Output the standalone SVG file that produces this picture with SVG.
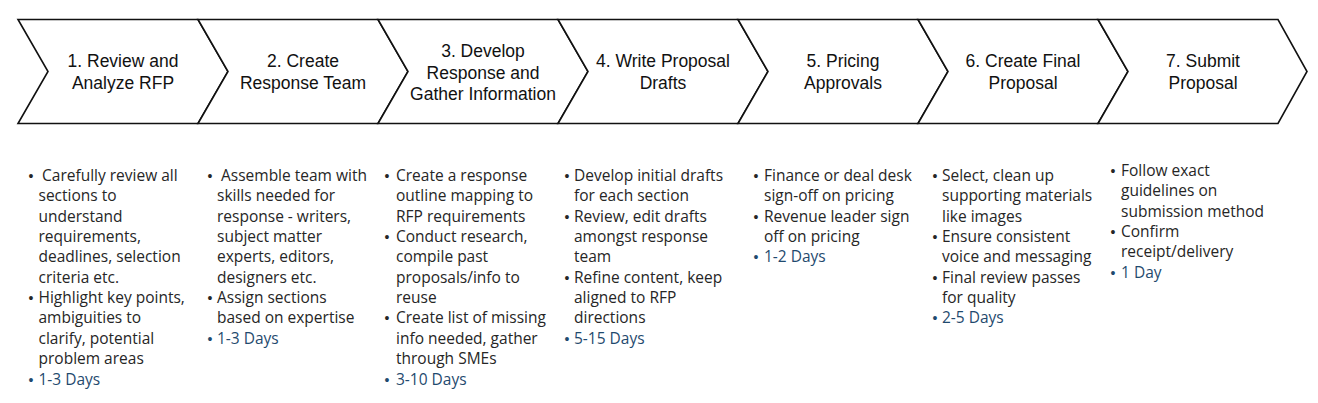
<svg xmlns="http://www.w3.org/2000/svg" width="1318" height="403" viewBox="0 0 1318 403">
<style>
.chev{fill:#fff;stroke:#111;stroke-width:1.6;stroke-linejoin:miter}
.hd{font-family:"Liberation Sans",Arial,sans-serif;font-size:17.5px;fill:#111;text-anchor:middle}
.bd{font-family:"Open Sans","Noto Sans",sans-serif;font-size:15.5px;fill:#262626}
.bl{font-family:"Liberation Sans",Arial,sans-serif;font-size:14px;fill:#262626;text-anchor:middle}
.dy{fill:#1f4a6e}
</style>
<rect width="1318" height="403" fill="#fff"/>
<g id="connectors"/>
<g id="step1">
<polygon class="chev" points="18,19.5 198,19.5 228,71.5 198,123.5 18,123.5 48,71.5"/>
<text class="hd" x="123" y="67">1. Review and<tspan x="123" dy="22">Analyze RFP</tspan></text>
<text class="bl" x="31" y="181">•<tspan x="31" dy="122.1">•</tspan><tspan x="31" dy="81.4" class="dy">•</tspan></text>
<text class="bd" x="42" y="181">Carefully review all<tspan x="38.5" dy="20.35">sections to</tspan><tspan x="38.5" dy="20.35">understand</tspan><tspan x="38.5" dy="20.35">requirements,</tspan><tspan x="38.5" dy="20.35">deadlines, selection</tspan><tspan x="38.5" dy="20.35">criteria etc.</tspan><tspan x="38.5" dy="20.35">Highlight key points,</tspan><tspan x="38.5" dy="20.35">ambiguities to</tspan><tspan x="38.5" dy="20.35">clarify, potential</tspan><tspan x="38.5" dy="20.35">problem areas</tspan><tspan x="38.5" dy="20.35" class="dy">1-3 Days</tspan></text>
</g>
<g id="step2">
<polygon class="chev" points="198,19.5 378,19.5 408,71.5 378,123.5 198,123.5 228,71.5"/>
<text class="hd" x="303" y="67">2. Create<tspan x="303" dy="22">Response Team</tspan></text>
<text class="bl" x="210" y="181">•<tspan x="210" dy="122.1">•</tspan><tspan x="210" dy="40.7" class="dy">•</tspan></text>
<text class="bd" x="221" y="181">Assemble team with<tspan x="217" dy="20.35">skills needed for</tspan><tspan x="217" dy="20.35">response - writers,</tspan><tspan x="217" dy="20.35">subject matter</tspan><tspan x="217" dy="20.35">experts, editors,</tspan><tspan x="217" dy="20.35">designers etc.</tspan><tspan x="217" dy="20.35">Assign sections</tspan><tspan x="217" dy="20.35">based on expertise</tspan><tspan x="217" dy="20.35" class="dy">1-3 Days</tspan></text>
</g>
<g id="step3">
<polygon class="chev" points="378,19.5 558,19.5 588,71.5 558,123.5 378,123.5 408,71.5"/>
<text class="hd" x="483" y="57">3. Develop<tspan x="483" dy="21.5">Response and</tspan><tspan x="483" dy="21.5">Gather Information</tspan></text>
<text class="bl" x="387" y="181">•<tspan x="387" dy="61.05">•</tspan><tspan x="387" dy="81.4">•</tspan><tspan x="387" dy="61.05" class="dy">•</tspan></text>
<text class="bd" x="396" y="181">Create a response<tspan x="396" dy="20.35">outline mapping to</tspan><tspan x="396" dy="20.35">RFP requirements</tspan><tspan x="396" dy="20.35">Conduct research,</tspan><tspan x="396" dy="20.35">compile past</tspan><tspan x="396" dy="20.35">proposals/info to</tspan><tspan x="396" dy="20.35">reuse</tspan><tspan x="396" dy="20.35">Create list of missing</tspan><tspan x="396" dy="20.35">info needed, gather</tspan><tspan x="396" dy="20.35">through SMEs</tspan><tspan x="396" dy="20.35" class="dy">3-10 Days</tspan></text>
</g>
<g id="step4">
<polygon class="chev" points="558,19.5 738,19.5 768,71.5 738,123.5 558,123.5 588,71.5"/>
<text class="hd" x="663" y="67">4. Write Proposal<tspan x="663" dy="22">Drafts</tspan></text>
<text class="bl" x="567" y="181">•<tspan x="567" dy="40.7">•</tspan><tspan x="567" dy="61.05">•</tspan><tspan x="567" dy="61.05" class="dy">•</tspan></text>
<text class="bd" x="574" y="181">Develop initial drafts<tspan x="574" dy="20.35">for each section</tspan><tspan x="574" dy="20.35">Review, edit drafts</tspan><tspan x="574" dy="20.35">amongst response</tspan><tspan x="574" dy="20.35">team</tspan><tspan x="574" dy="20.35">Refine content, keep</tspan><tspan x="574" dy="20.35">aligned to RFP</tspan><tspan x="574" dy="20.35">directions</tspan><tspan x="574" dy="20.35" class="dy">5-15 Days</tspan></text>
</g>
<g id="step5">
<polygon class="chev" points="738,19.5 918,19.5 948,71.5 918,123.5 738,123.5 768,71.5"/>
<text class="hd" x="843" y="67">5. Pricing<tspan x="843" dy="22">Approvals</tspan></text>
<text class="bl" x="756" y="181">•<tspan x="756" dy="40.7">•</tspan><tspan x="756" dy="40.7" class="dy">•</tspan></text>
<text class="bd" x="764" y="181">Finance or deal desk<tspan x="764" dy="20.35">sign-off on pricing</tspan><tspan x="764" dy="20.35">Revenue leader sign</tspan><tspan x="764" dy="20.35">off on pricing</tspan><tspan x="764" dy="20.35" class="dy">1-2 Days</tspan></text>
</g>
<g id="step6">
<polygon class="chev" points="918,19.5 1098,19.5 1128,71.5 1098,123.5 918,123.5 948,71.5"/>
<text class="hd" x="1023" y="67">6. Create Final<tspan x="1023" dy="22">Proposal</tspan></text>
<text class="bl" x="935" y="181">•<tspan x="935" dy="61.05">•</tspan><tspan x="935" dy="40.7">•</tspan><tspan x="935" dy="40.7" class="dy">•</tspan></text>
<text class="bd" x="942" y="181">Select, clean up<tspan x="942" dy="20.35">supporting materials</tspan><tspan x="942" dy="20.35">like images</tspan><tspan x="942" dy="20.35">Ensure consistent</tspan><tspan x="942" dy="20.35">voice and messaging</tspan><tspan x="942" dy="20.35">Final review passes</tspan><tspan x="942" dy="20.35">for quality</tspan><tspan x="942" dy="20.35" class="dy">2-5 Days</tspan></text>
</g>
<g id="step7">
<polygon class="chev" points="1098,19.5 1278,19.5 1307,71.5 1278,123.5 1098,123.5 1128,71.5"/>
<text class="hd" x="1203" y="67">7. Submit<tspan x="1203" dy="22">Proposal</tspan></text>
<text class="bl" x="1113" y="176">•<tspan x="1113" dy="61.05">•</tspan><tspan x="1113" dy="40.7" class="dy">•</tspan></text>
<text class="bd" x="1121" y="176">Follow exact<tspan x="1121" dy="20.35">guidelines on</tspan><tspan x="1121" dy="20.35">submission method</tspan><tspan x="1121" dy="20.35">Confirm</tspan><tspan x="1121" dy="20.35">receipt/delivery</tspan><tspan x="1121" dy="20.35" class="dy">1 Day</tspan></text>
</g>
</svg>
